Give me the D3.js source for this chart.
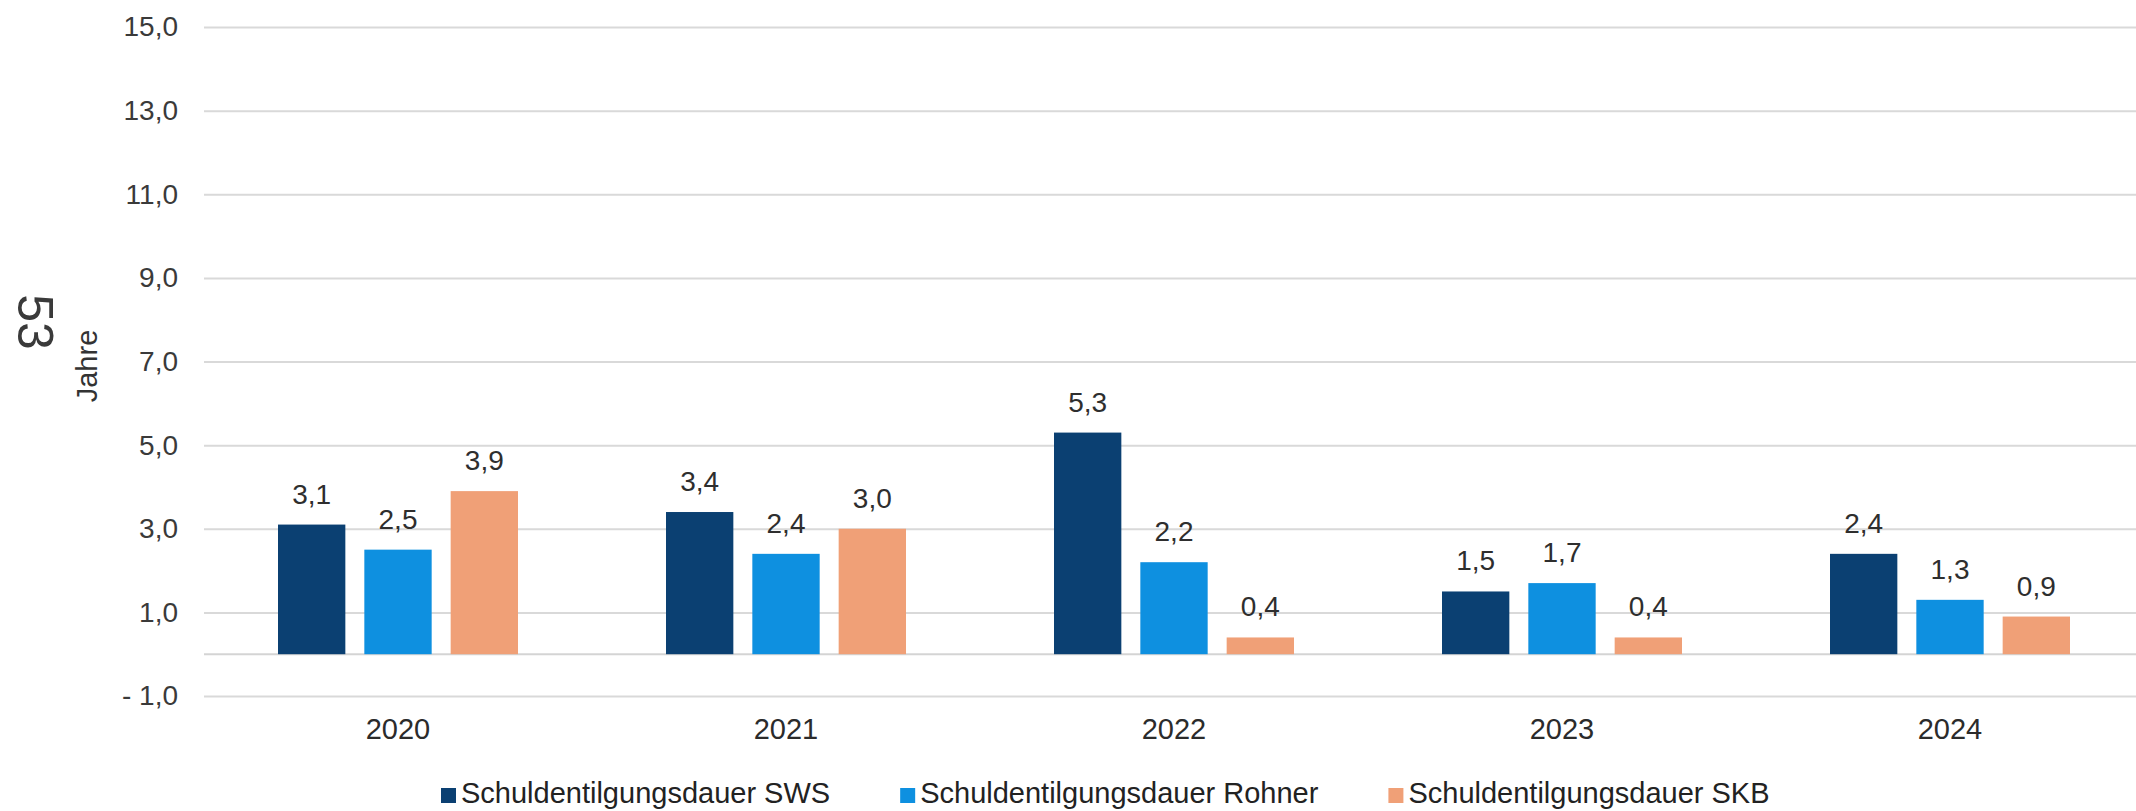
<!DOCTYPE html>
<meta charset="utf-8">
<head>
    <title>Schuldentilgungsdauer</title>
    <style>
        body { margin: 0; background: #fff; }
        text { font-family: "Liberation Sans", Arial, sans-serif; }
    </style>
</head>
<body>
    <script src="https://cdn.jsdelivr.net/npm/d3@7"></script>
    <div id="chart"></div>
    <script>

        // data
        var years = ['2020', '2021', '2022', '2023', '2024'];
        var seriesNames = ['Schuldentilgungsdauer SWS', 'Schuldentilgungsdauer Rohner', 'Schuldentilgungsdauer SKB'];
        var sws = [3.1, 3.4, 5.3, 1.5, 2.4];
        var rohner = [2.5, 2.4, 2.2, 1.7, 1.3];
        var skb = [3.9, 3.0, 0.4, 0.4, 0.9];
        var yTicks = [-1, 1, 3, 5, 7, 9, 11, 13, 15];
        var colors = ['#0b4072', '#0e90e0', '#f0a077'];

        var width = 2136;
        var height = 811;

        var values = [sws, rohner, skb];
        var dataset = years.map(function(y, i) {
          return { year: y, vals: values.map(function(s, k) { return { key: seriesNames[k], value: s[i], idx: k }; }) };
        });

        var de = d3.formatLocale({ decimal: ',', thousands: '.', grouping: [3], currency: ['', ' €'] });
        var f1 = de.format('.1f');
        var fmt = function(d) { return d < 0 ? '- ' + f1(-d) : f1(d); };

        var svg = d3.select('#chart')
          .append('svg')
          .attr('width', width)
          .attr('height', height);

        var x0 = d3.scaleBand()
          .domain(years)
          .range([204, 2144]);

        var x1 = d3.scaleBand()
          .domain(seriesNames)
          .range([-120, 120])
          .paddingInner(0.22);

        var y = d3.scaleLinear()
          .domain([-1, 15])
          .range([696, 27]);

        // gridlines + tick labels
        var yAxis = svg.append('g')
          .attr('transform', 'translate(204,0)')
          .call(d3.axisLeft(y).tickValues(yTicks).tickFormat(fmt)
            .tickSize(-(width - 204)).tickPadding(26));
        yAxis.select('.domain').remove();
        yAxis.selectAll('.tick line').attr('stroke', '#d9d9d9').attr('stroke-width', 2);
        yAxis.selectAll('.tick text').attr('fill', '#3a3a3a').style('font-size', '28px');

        // zero line
        svg.append('line')
          .attr('x1', 204).attr('x2', width)
          .attr('y1', y(0)).attr('y2', y(0))
          .attr('stroke', '#d4d4d4').attr('stroke-width', 2);

        // category labels
        svg.append('g').selectAll('text')
          .data(years)
          .enter()
          .append('text')
          .attr('x', function(d) { return x0(d) + x0.bandwidth() / 2; })
          .attr('y', 739)
          .attr('text-anchor', 'middle')
          .attr('fill', '#2b2b2b')
          .style('font-size', '29px')
          .text(function(d) { return d; });

        var groups = svg.selectAll('.grp')
          .data(dataset)
          .enter()
          .append('g')
          .attr('class', 'grp')
          .attr('transform', function(d) { return 'translate(' + (x0(d.year) + x0.bandwidth() / 2) + ',0)'; });

        groups.selectAll('rect')
          .data(function(d) { return d.vals; })
          .enter()
          .append('rect')
          .attr('x', function(d) { return x1(d.key); })
          .attr('width', x1.bandwidth())
          .attr('y', function(d) { return y(d.value); })
          .attr('height', function(d) { return y(0) - y(d.value); })
          .attr('fill', function(d) { return colors[d.idx]; });

        groups.selectAll('.lbl')
          .data(function(d) { return d.vals; })
          .enter()
          .append('text')
          .attr('class', 'lbl')
          .attr('x', function(d) { return x1(d.key) + x1.bandwidth() / 2; })
          .attr('y', function(d) { return y(d.value) - 21; })
          .attr('text-anchor', 'middle')
          .attr('fill', '#2e2e2e')
          .style('font-size', '28px')
          .text(function(d) { return f1(d.value); });

        // axis title
        svg.append('text')
          .attr('transform', 'translate(97,366) rotate(-90)')
          .attr('text-anchor', 'middle')
          .attr('fill', '#333')
          .style('font-size', '29px')
          .text('Jahre');

        // handwritten page number
        svg.append('text')
          .attr('transform', 'translate(18,322) rotate(90)')
          .attr('text-anchor', 'middle')
          .attr('fill', '#3a3a3a')
          .style('font-size', '50px')
          .style('font-weight', '300')
          .text('53');

        // legend
        var legend = svg.append('g').attr('transform', 'translate(441,803)');
        var lx = 0;
        seriesNames.forEach(function(name, k) {
          var item = legend.append('g').attr('transform', 'translate(' + lx + ',0)');
          item.append('rect')
            .attr('x', 0).attr('y', -15)
            .attr('width', 15).attr('height', 15)
            .attr('fill', colors[k]);
          var t = item.append('text')
            .attr('x', 20)
            .attr('y', 0)
            .attr('fill', '#222')
            .style('font-size', '29px')
            .text(name);
          lx += 20 + t.node().getComputedTextLength() + 70;
        });
  </script>
</body>
